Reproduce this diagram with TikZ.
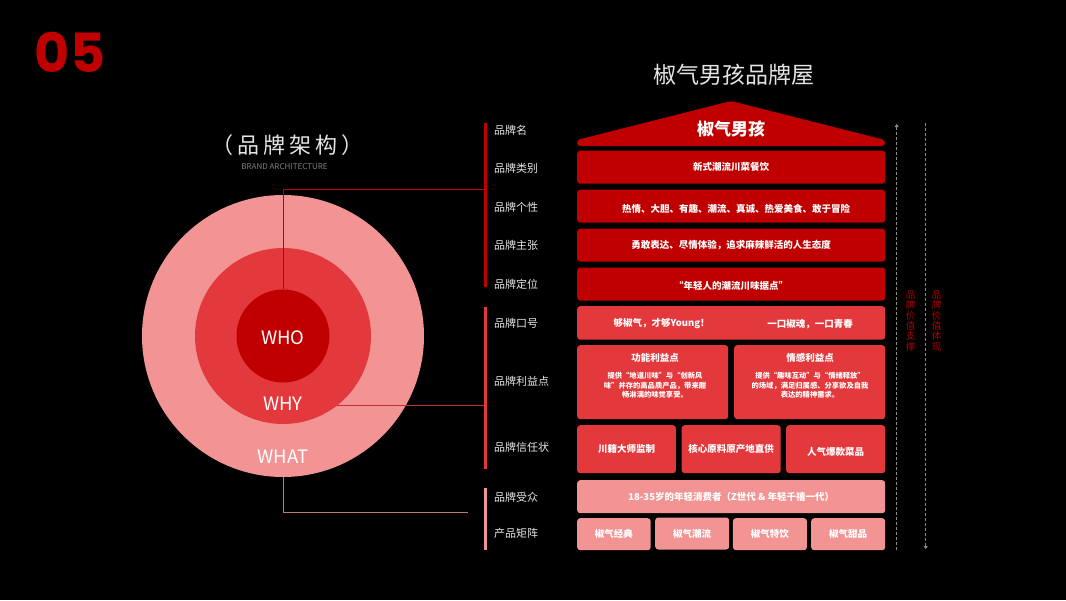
\documentclass[tikz,border=0pt]{standalone}
\usepackage{fontspec}
\setmainfont{Noto Sans CJK SC}
\newfontfamily\pop{Poppins}
\usetikzlibrary{arrows.meta}
\definecolor{cdark}{HTML}{C00000}
\definecolor{cmid}{HTML}{E3393C}
\definecolor{cpink}{HTML}{F29493}
\definecolor{labgray}{HTML}{E4E4E4}
\definecolor{dgray}{HTML}{8A8A8A}
\definecolor{vred}{HTML}{B00000}
\tikzset{
  lab/.style={text=labgray, font=\fontsize{11}{13}\selectfont, anchor=west, inner sep=0},
  boxbase/.style={rounded corners=3pt, anchor=north west, inner sep=0, text=white, font=\bfseries\fontsize{9.5}{11}\selectfont},
  boxA/.style={boxbase, fill=cdark},
  boxB/.style={boxbase, fill=cmid},
  boxC/.style={boxbase, fill=cpink},
  txt/.style={text=white, inner sep=0, font=\bfseries\fontsize{9.5}{11}\selectfont},
  body/.style={text=white, inner sep=0, align=center, font=\bfseries\fontsize{7.3}{9.3}\selectfont},
  ring/.style={circle, inner sep=0},
  ctext/.style={text=white, inner sep=0, font=\fontsize{18.5}{20}\selectfont},
  bar/.style={line width=2.5pt},
  vtext/.style={text=vred, inner sep=0, align=center, font=\fontsize{9.5}{10.3}\selectfont},
  darrow/.style={dgray, dashed, dash pattern=on 3pt off 2pt, line width=0.8pt}
}
\begin{document}
\begin{tikzpicture}[x=1pt,y=-1pt]
\fill[black] (0,0) rectangle (1066,600);
\useasboundingbox (0,0) rectangle (1066,600);

% headings
\node[text=cdark, inner sep=0, font=\pop\bfseries\fontsize{54}{54}\selectfont] (num) at (70,52.5) {05};
\node[text=labgray, inner sep=0, font=\fontsize{22}{24}\selectfont\addfontfeatures{LetterSpace=18}] (t1) at (287.5,145.5) {（品牌架构）};
\node[text=gray, inner sep=0, font=\fontsize{8}{9}\selectfont] (t2) at (284.5,166.5) {BRAND ARCHITECTURE};
\node[text=labgray, inner sep=0, font=\fontsize{23}{25}\selectfont] (t3) at (733.5,75) {椒气男孩品牌屋};

% circles
\node[ring, fill=cpink, minimum size=282pt] (what) at (283,336) {};
\node[ring, fill=cmid, minimum size=176pt] (why) at (283,336) {};
\node[ring, fill=cdark, minimum size=93pt] (who) at (283,336) {};
\node[ctext] (whot) at (283,338) {WHO};
\node[ctext] (whyt) at (283,404) {WHY};
\node[ctext] (whatt) at (283,457) {WHAT};

% bars
\coordinate (b1t) at (485.5,123); \coordinate (b1b) at (485.5,287);
\coordinate (b2t) at (485.5,307); \coordinate (b2b) at (485.5,469);
\coordinate (b3t) at (485.5,488); \coordinate (b3b) at (485.5,550);
\draw[bar, cdark] (b1t) -- (b1b);
\draw[bar, cmid] (b2t) -- (b2b);
\draw[bar, cpink] (b3t) -- (b3b);

% connectors
\coordinate (e1) at (484,189.3);
\coordinate (e2) at (484,405);
\coordinate (e3) at (468,512.7);
\coordinate (whyp) at (336.7,405);
\draw[cdark, line width=1pt] (who.north) |- (e1);
\draw[cmid!85!black, line width=1pt] (whyp) -- (e2);
\draw[cpink!80!black, line width=1pt] (what.south) |- (e3);

% labels
\node[lab] (l1) at (494,130) {品牌名};
\node[lab] (l2) at (494,168) {品牌类别};
\node[lab] (l3) at (494,207) {品牌个性};
\node[lab] (l4) at (494,245) {品牌主张};
\node[lab] (l5) at (494,284) {品牌定位};
\node[lab] (l6) at (494,323) {品牌口号};
\node[lab] (l7) at (494,381) {品牌利益点};
\node[lab] (l8) at (494,447) {品牌信任状};
\node[lab] (l9) at (494,497) {品牌受众};
\node[lab] (l10) at (494,533) {产品矩阵};

% roof
\fill[cdark, rounded corners=3pt] (577,146) -- (577,140) -- (731,101) -- (885,140) -- (885,146) -- cycle;
\node[txt, font=\bfseries\fontsize{17}{19}\selectfont] (roof) at (731,129) {椒气男孩};

% rows
\node[boxA, minimum width=308pt, minimum height=33pt] (r1) at (577,150.5) {新式潮流川菜餐饮};
\node[boxA, minimum width=308pt, minimum height=33pt] (r2) at (577,189.5) {};
\node[txt] (r2t) at (736,209) {热情、大胆、有趣、潮流、真诚、热爱美食、敢于冒险};
\node[boxA, minimum width=308pt, minimum height=33pt] (r3) at (577,228.5) {勇敢表达、尽情体验，追求麻辣鲜活的人生态度};
\node[boxA, minimum width=308pt, minimum height=33pt] (r4) at (577,267.3) {};
\node[txt] (r4t) at (731,285.5) {“年轻人的潮流川味据点”};

\node[boxB, minimum width=308pt, minimum height=33.5pt] (r5) at (577,306) {};
\node[txt] (r5a) at (661.7,324) {够椒气，才够Young！};
\node[txt] (r5b) at (810,324.5) {一口椒魂，一口青春};

\node[boxB, minimum width=151pt, minimum height=74pt] (r6a) at (577,345) {};
\node[boxB, minimum width=151pt, minimum height=74pt] (r6b) at (734,345) {};
\node[txt] (r6at) at (655,358.3) {功能利益点};
\node[txt] (r6bt) at (810,358.3) {情感利益点};
\node[body] (r6ab) at (655,385.3) {提供“地道川味”与“创新风\\味”并存的高品质产品，带来酣\\畅淋漓的味觉享受。};
\node[body] (r6bb) at (810,385.3) {提供“趣味互动”与“情绪释放”\\的场域，满足归属感、分享欲及自我\\表达的精神需求。};

\node[boxB, minimum width=98.7pt, minimum height=48pt] (r7a) at (577,425) {川籍大师监制};
\node[boxB, minimum width=99pt, minimum height=48pt] (r7b) at (681.5,425) {核心原料原产地直供};
\node[boxB, minimum width=99pt, minimum height=48pt] (r7c) at (786,425) {};
\node[txt] (r7ct) at (835.5,452) {人气爆款菜品};

\node[boxC, minimum width=308pt, minimum height=33pt] (r8) at (577,480) {18-35岁的年轻消费者（Z世代 \& 年轻千禧一代）};
\node[boxC, minimum width=73.5pt, minimum height=32pt] (r9a) at (577,518) {椒气经典};
\node[boxC, minimum width=74pt, minimum height=32pt] (r9b) at (655,517.3) {椒气潮流};
\node[boxC, minimum width=74pt, minimum height=32pt] (r9c) at (732.7,518) {椒气特饮};
\node[boxC, minimum width=74pt, minimum height=32pt] (r9d) at (811,518) {椒气甜品};

% side arrows
\coordinate (a1t) at (896.7,124); \coordinate (a1b) at (896.7,550);
\coordinate (a2t) at (925.7,123); \coordinate (a2b) at (925.7,549);
\draw[darrow, -{Triangle[width=4pt,length=3pt]}] (a1b) -- (a1t);
\draw[darrow, -{Triangle[width=4pt,length=3pt]}] (a2t) -- (a2b);
\node[vtext] (v1) at (910.7,321) {品\\牌\\价\\值\\支\\撑};
\node[vtext] (v2) at (936.7,321) {品\\牌\\价\\值\\体\\现};
\end{tikzpicture}
\end{document}
